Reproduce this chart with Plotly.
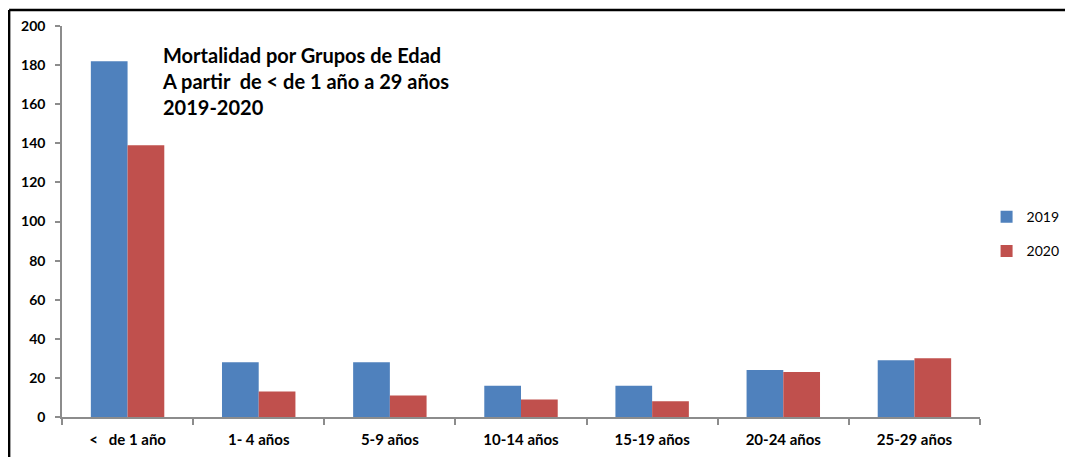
import plotly.graph_objects as go

categories = ["&lt;\u00a0\u00a0 de 1 año", "1- 4 años", "5-9 años", "10-14 años",
              "15-19 años", "20-24 años", "25-29 años"]
values_2019 = [182, 28, 28, 16, 16, 24, 29]
values_2020 = [139, 13, 11, 9, 8, 23, 30]
y_ticks = [0, 20, 40, 60, 80, 100, 120, 140, 160, 180, 200]

BLUE = "#4F81BD"
RED = "#C0504D"
FONT = "Lato"

fig = go.Figure()
fig.add_trace(go.Bar(x=categories, y=values_2019, name="2019",
                     marker=dict(color=BLUE, line=dict(width=0)), legendgroup="a"))
fig.add_trace(go.Bar(x=categories, y=values_2020, name="2020",
                     marker=dict(color=RED, line=dict(width=0)), legendgroup="b"))

fig.update_layout(
    width=1073, height=457,
    margin=dict(l=54, r=101, t=18, b=48, autoexpand=False),
    paper_bgcolor="white", plot_bgcolor="white",
    barmode="group", bargap=0.44, bargroupgap=0,
    font=dict(family=FONT, size=14, color="black"),
    showlegend=True,
    legend=dict(xref="container", yref="container", x=0.912, xanchor="left",
                y=0.505, yanchor="middle",
                font=dict(family=FONT, size=14, color="black"),
                tracegroupgap=13, itemwidth=30, traceorder="grouped",
                bgcolor="rgba(0,0,0,0)"),
    xaxis=dict(showline=True, linecolor="#8c8c8c", linewidth=1.5, automargin=False,
               ticks="outside", tickson="boundaries", ticklen=6,
               tickcolor="#8c8c8c", tickwidth=1.5, ticklabelstandoff=8,
               tickfont=dict(family=FONT, size=15, color="black", weight="bold"),
               showgrid=False, zeroline=False),
    yaxis=dict(range=[0, 200], tickvals=y_ticks, showline=True, automargin=False,
               linecolor="#8c8c8c", linewidth=1.5, ticks="outside", ticklen=5,
               tickcolor="#8c8c8c", tickwidth=1.5, ticklabelstandoff=7,
               tickfont=dict(family=FONT, size=14, color="black", weight="bold"),
               showgrid=False, zeroline=False),
)

fig.add_annotation(
    text="Mortalidad por Grupos de Edad<br>A partir\u00a0 de &lt; de 1 año a 29 años<br>2019-2020",
    xref="paper", yref="paper", x=0.107, y=0.962, xanchor="left", yanchor="top",
    align="left", showarrow=False,
    font=dict(family=FONT, size=20, color="black", weight="bold"),
)

# outer frame lines (top and left)
fig.add_shape(type="line", xref="paper", yref="paper",
              x0=-0.0576, x1=1.2, y0=1.041, y1=1.041,
              line=dict(color="black", width=2.5))
fig.add_shape(type="line", xref="paper", yref="paper",
              x0=-0.0576, x1=-0.0576, y0=1.041, y1=-0.2,
              line=dict(color="black", width=2.5))

fig.write_html("out.html")
